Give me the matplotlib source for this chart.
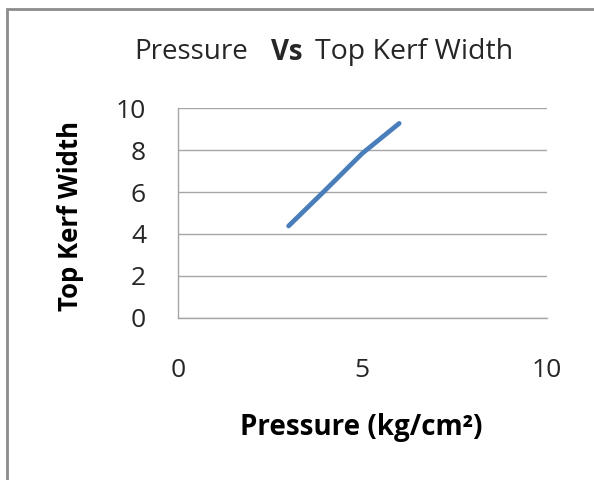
import matplotlib
matplotlib.use("Agg")
import matplotlib.pyplot as plt
from matplotlib.patches import Rectangle

pressure = [3, 4, 5, 6]
kerf_width = [4.38, 6.1, 7.85, 9.28]
x_ticks = [0, 5, 10]
y_ticks = [0, 2, 4, 6, 8, 10]

plt.rcParams['font.family'] = ['Open Sans', 'DejaVu Sans']

fig = plt.figure(figsize=(5.94, 4.8), dpi=100)
fig.patch.set_facecolor('white')
# outer chart border
fig.add_artist(Rectangle((6.5/594, -0.01), 1.2, 1 - 9/480 + 0.01, transform=fig.transFigure,
                         fill=False, edgecolor='#8c8c8c', linewidth=2))

ax = fig.add_axes([178/594, 1 - 317.7/480, (546.7 - 178)/594, (317.7 - 108.3)/480])
ax.plot(pressure, kerf_width, color='#4a7ebb', linewidth=3.4, solid_capstyle='round')
ax.set_xlim(0, 10)
ax.set_ylim(0, 10)
ax.set_xticks(x_ticks)
ax.set_yticks(y_ticks)
ax.grid(axis='y', color='#a6a6a6', linewidth=1)
ax.set_axisbelow(True)
for s in ['top', 'right']:
    ax.spines[s].set_visible(False)
ax.spines['left'].set_color('#a6a6a6')
ax.spines['bottom'].set_color('#a6a6a6')
ax.spines['left'].set_linewidth(1)
ax.spines['bottom'].set_linewidth(1)
ax.tick_params(axis='both', length=0, labelsize=19, colors='#262626')
ax.tick_params(axis='x', pad=29)
ax.tick_params(axis='y', pad=23)

ty = 1 - 52/480
fig.text(134/594, ty, 'Pressure', ha='left', va='center', fontsize=20, color='#262626')
fig.text(271/594, ty, 'Vs', ha='left', va='center', fontsize=20, fontweight='bold', color='#262626')
fig.text(315/594, ty, 'Top Kerf Width', ha='left', va='center', fontsize=20.5, color='#262626')

fig.text(70/594, 1 - 216/480, 'Top Kerf Width', rotation=90, ha='center', va='center',
         fontsize=18.5, fontweight='bold', color='black')
fig.text(361.5/594, 1 - 428/480, 'Pressure (kg/cm²)', ha='center', va='center',
         fontsize=20, fontweight='bold', color='black')

fig.savefig('out.png', dpi=100)
